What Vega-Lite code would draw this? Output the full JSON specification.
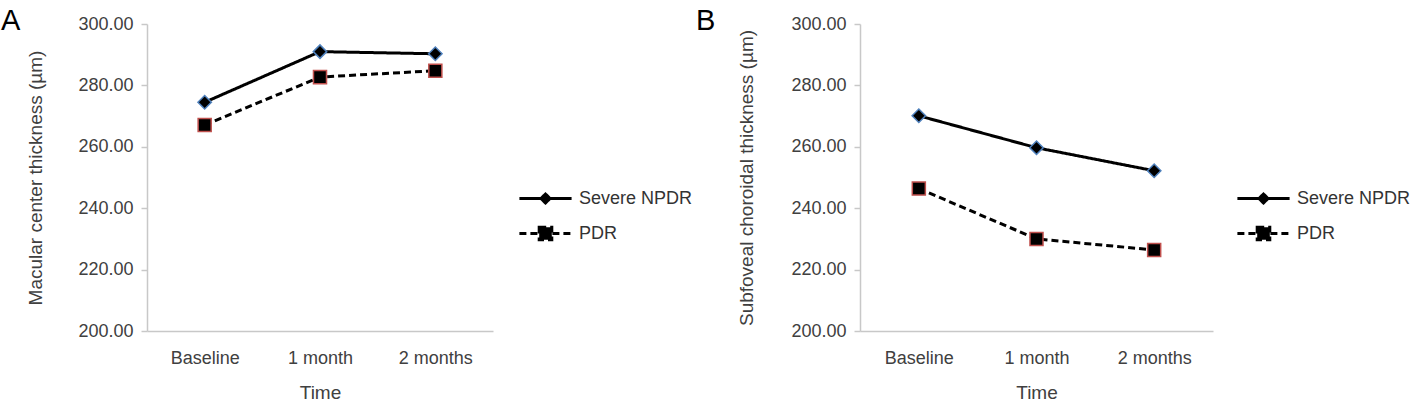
{
  "$schema": "https://vega.github.io/schema/vega-lite/v6.json",
  "padding": {"left": 0, "top": 7, "right": 5, "bottom": 0},
  "spacing": 2,
  "config": {
    "font": "Liberation Sans",
    "view": {"stroke": null},
    "axis": {
      "grid": false,
      "domainColor": "#c8c8c8",
      "domainWidth": 1.5,
      "tickColor": "#c8c8c8",
      "tickWidth": 1.5,
      "labelFont": "Liberation Sans",
      "labelFontSize": 18,
      "labelColor": "#404040",
      "titleFont": "Liberation Sans",
      "titleFontSize": 19,
      "titleFontWeight": "normal",
      "titleColor": "#404040"
    },
    "title": {"font": "Liberation Sans", "fontSize": 29, "fontWeight": "normal", "color": "black"}
  },
  "datasets": {
    "a": [
      {"time": "Baseline", "group": "Severe NPDR", "value": 274.5},
      {"time": "1 month", "group": "Severe NPDR", "value": 291.0},
      {"time": "2 months", "group": "Severe NPDR", "value": 290.3},
      {"time": "Baseline", "group": "PDR", "value": 267.1},
      {"time": "1 month", "group": "PDR", "value": 282.7},
      {"time": "2 months", "group": "PDR", "value": 284.8}
    ],
    "b": [
      {"time": "Baseline", "group": "Severe NPDR", "value": 270.1},
      {"time": "1 month", "group": "Severe NPDR", "value": 259.7},
      {"time": "2 months", "group": "Severe NPDR", "value": 252.2},
      {"time": "Baseline", "group": "PDR", "value": 246.4},
      {"time": "1 month", "group": "PDR", "value": 230.0},
      {"time": "2 months", "group": "PDR", "value": 226.4}
    ]
  },
  "hconcat": [
    {
      "title": {"text": "A", "anchor": "start", "frame": "bounds", "dx": -26, "dy": 25},
      "width": 346,
      "height": 307,
      "data": {"name": "a"},
      "encoding": {
        "x": {"field": "time", "type": "nominal", "sort": ["Baseline", "1 month", "2 months"], "scale": {"type": "point", "padding": 0.5},
          "axis": {"title": "Time", "labelAngle": 0, "ticks": false, "labelPadding": 18, "titlePadding": 16}},
        "y": {"field": "value", "type": "quantitative", "scale": {"domain": [200, 300], "nice": false, "zero": false},
          "axis": {"title": "Macular center thickness (µm)", "values": [200, 220, 240, 260, 280, 300], "format": ".2f", "tickSize": 6, "labelPadding": 8, "titlePadding": 32}}
      },
      "layer": [
        {
          "mark": {"type": "line", "color": "black", "strokeWidth": 3},
          "encoding": {
            "strokeDash": {"field": "group", "type": "nominal",
              "scale": {"domain": ["Severe NPDR", "PDR"], "range": [[1, 0], [7, 4]]},
              "legend": {"orient": "none", "legendX": 388, "legendY": 164, "title": null,
                "labelFontSize": 18, "labelColor": "#333333", "labelFont": "Liberation Sans",
                "symbolSize": 324, "symbolStrokeWidth": 3, "symbolStrokeColor": "black", "symbolFillColor": "black",
                "labelOffset": 23, "rowPadding": 12,
                "encode": {"symbols": {"update": {
                  "shape": {"signal": "datum.value === 'PDR' ? 'M-2.9,0H2.9M-0.7,-0.7H0.7V0.7H-0.7Z' : 'M-2.9,0H2.9M-0.5,0L0,-0.5L0.5,0L0,0.5Z'"},
                  "fill": {"value": "black"},
                  "stroke": {"value": "black"},
                  "strokeWidth": {"value": 3},
                  "opacity": {"value": 1}}}}}}
          }
        },
        {
          "transform": [{"filter": "datum.group === 'Severe NPDR'"}],
          "mark": {"type": "point", "shape": "diamond", "size": 180, "strokeWidth": 1.5, "stroke": "#4f81bd", "fill": "black", "fillOpacity": 1, "opacity": 1}
        },
        {
          "transform": [{"filter": "datum.group === 'PDR'"}],
          "mark": {"type": "point", "shape": "square", "size": 170, "strokeWidth": 1.5, "stroke": "#c0504d", "fill": "black", "fillOpacity": 1, "opacity": 1}
        }
      ]
    },
    {
      "title": {"text": "B", "anchor": "start", "frame": "bounds", "dx": -42, "dy": 25},
      "width": 353,
      "height": 307,
      "data": {"name": "b"},
      "encoding": {
        "x": {"field": "time", "type": "nominal", "sort": ["Baseline", "1 month", "2 months"], "scale": {"type": "point", "padding": 0.5},
          "axis": {"title": "Time", "labelAngle": 0, "ticks": false, "labelPadding": 18, "titlePadding": 16}},
        "y": {"field": "value", "type": "quantitative", "scale": {"domain": [200, 300], "nice": false, "zero": false},
          "axis": {"title": "Subfoveal choroidal thickness (µm)", "values": [200, 220, 240, 260, 280, 300], "format": ".2f", "tickSize": 6, "labelPadding": 8, "titlePadding": 34}}
      },
      "layer": [
        {
          "mark": {"type": "line", "color": "black", "strokeWidth": 3},
          "encoding": {
            "strokeDash": {"field": "group", "type": "nominal",
              "scale": {"domain": ["Severe NPDR", "PDR"], "range": [[1, 0], [7, 4]]},
              "legend": {"orient": "none", "legendX": 393, "legendY": 164, "title": null,
                "labelFontSize": 18, "labelColor": "#333333", "labelFont": "Liberation Sans",
                "symbolSize": 324, "symbolStrokeWidth": 3, "symbolStrokeColor": "black", "symbolFillColor": "black",
                "labelOffset": 23, "rowPadding": 12,
                "encode": {"symbols": {"update": {
                  "shape": {"signal": "datum.value === 'PDR' ? 'M-2.9,0H2.9M-0.7,-0.7H0.7V0.7H-0.7Z' : 'M-2.9,0H2.9M-0.5,0L0,-0.5L0.5,0L0,0.5Z'"},
                  "fill": {"value": "black"},
                  "stroke": {"value": "black"},
                  "strokeWidth": {"value": 3},
                  "opacity": {"value": 1}}}}}}
          }
        },
        {
          "transform": [{"filter": "datum.group === 'Severe NPDR'"}],
          "mark": {"type": "point", "shape": "diamond", "size": 180, "strokeWidth": 1.5, "stroke": "#4f81bd", "fill": "black", "fillOpacity": 1, "opacity": 1}
        },
        {
          "transform": [{"filter": "datum.group === 'PDR'"}],
          "mark": {"type": "point", "shape": "square", "size": 170, "strokeWidth": 1.5, "stroke": "#c0504d", "fill": "black", "fillOpacity": 1, "opacity": 1}
        }
      ]
    }
  ],
  "resolve": {"scale": {"y": "independent", "x": "independent", "strokeDash": "independent"}, "legend": {"strokeDash": "independent"}}
}
